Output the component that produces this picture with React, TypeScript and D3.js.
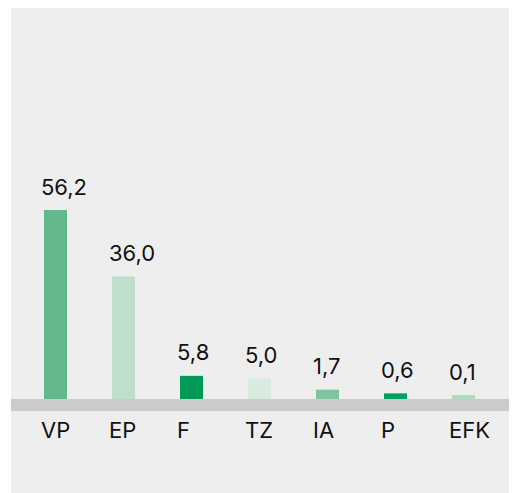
import React from "react";
import * as d3 from "d3";

const categories = ["VP", "EP", "F", "TZ", "IA", "P", "EFK"];
const values = [56.2, 36.0, 5.8, 5.0, 1.7, 0.6, 0.1];
const valueLabels = ["56,2", "36,0", "5,8", "5,0", "1,7", "0,6", "0,1"];
const colors = ["#63b98c", "#bfdfcc", "#009a57", "#d9ebdf", "#80c49e", "#00a060", "#b0d9c0"];

const W = 509;
const H = 485;
const panelX = 3;
const baseY = 391;
const bandH = 12;

export default function App() {
  const x = d3
    .scaleBand<string>()
    .domain(categories)
    .range([13.5, 489.5])
    .paddingInner(45 / 68)
    .paddingOuter(45 / 136);
  const y = d3.scaleLinear().domain([0, 6, 56.2]).range([387.4, 367.2, 202]);
  const font = "Inter, 'Liberation Sans', Arial, sans-serif";
  return (
    <svg width={W} height={H} style={{ display: "block" }}>
      <rect x={panelX} y={0} width={W - panelX} height={H} fill="#eeeeee" />
      {categories.map((c, i) => (
        <rect
          key={c}
          x={x(c)}
          y={y(values[i])}
          width={x.bandwidth()}
          height={baseY - y(values[i])}
          fill={colors[i]}
        />
      ))}
      <rect x={panelX} y={baseY} width={W - panelX} height={bandH} fill="#cbcbcb" />
      {categories.map((c, i) => (
        <text
          key={"v" + c}
          x={(x(c) as number) - 3}
          y={y(values[i]) - 15.5}
          fontFamily={font}
          fontSize={22}
          fill="#111"
        >
          {valueLabels[i]}
        </text>
      ))}
      {categories.map((c) => (
        <text
          key={"c" + c}
          x={(x(c) as number) - 3}
          y={430.3}
          fontFamily={font}
          fontSize={22}
          fill="#111"
        >
          {c}
        </text>
      ))}
    </svg>
  );
}
